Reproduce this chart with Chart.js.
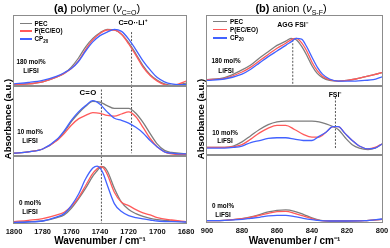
<!DOCTYPE html>
<html><head><meta charset="utf-8">
<script src="https://cdn.jsdelivr.net/npm/chart.js@4"></script>
<style>
body{margin:0;width:390px;height:248px;background:#fff;position:relative;overflow:hidden;font-family:"Liberation Sans",Arial,sans-serif;color:#000}
canvas{position:absolute}
.t{position:absolute;white-space:nowrap;line-height:1}
.c{transform:translate(-50%,-50%)}
.l{transform:translateY(-50%)}
.b{font-weight:bold}
.frame{position:absolute;border:1.5px solid #8c8c8c;box-sizing:border-box;pointer-events:none}
.div{position:absolute;height:1.5px;background:#8c8c8c}
.lg{position:absolute;height:1.8px}
.yt{position:absolute;font-weight:bold;font-size:9.5px;white-space:nowrap;transform:translate(-50%,-50%) rotate(-90deg)}
</style></head><body>
<script>
// ---------- data ----------
const legendLabels = ['PEC', 'P(EC/EO)', 'CP20'];
const concLabels = ['180 mol%', '10 mol%', '0 mol%'];
const ticksA = [1800, 1780, 1760, 1740, 1720, 1700, 1680];
const ticksB = [900, 880, 860, 840, 820, 800];

// (a) polymer, 180 mol% LiFSI
const wnA180  = [1800,1790,1780,1770,1765,1760,1755,1750,1745,1740,1735,1730,1725,1720,1715,1710,1705,1700,1695,1690,1685,1680];
const pecA180 = [.02,.03,.06,.13,.18,.27,.40,.56,.68,.76,.81,.80,.74,.62,.46,.29,.16,.08,.03,.01,.02,.04];
const pEOA180 = [.02,.03,.06,.13,.18,.25,.36,.52,.66,.75,.80,.80,.74,.60,.44,.27,.15,.07,.02,.005,.03,.07];
const cpA180  = [.03,.05,.08,.14,.19,.25,.35,.50,.63,.72,.77,.81,.78,.67,.52,.36,.23,.12,.06,.03,.02,.02];
// (a) polymer, 10 mol% LiFSI
const wnA10   = [1800,1790,1780,1770,1765,1760,1755,1750,1745,1740,1735,1730,1725,1720,1715,1710,1705,1700,1695,1690,1685,1680];
const pecA10  = [.04,.06,.10,.23,.34,.49,.61,.71,.78,.77,.72,.68,.68,.68,.61,.48,.32,.17,.08,.05,.04,.03];
const pEOA10  = [.04,.06,.10,.22,.32,.44,.53,.58,.62,.61,.58,.57,.60,.63,.56,.41,.25,.13,.06,.03,.02,.02];
const cpA10   = [.04,.06,.10,.24,.36,.51,.63,.72,.79,.74,.63,.54,.51,.47,.41,.33,.22,.13,.06,.04,.03,.03];
// (a) polymer, 0 mol% LiFSI
const wnA0    = [1800,1790,1780,1770,1765,1760,1755,1750,1745,1742,1740,1738,1735,1730,1725,1720,1715,1710,1705,1700,1690,1680];
const pecA0   = [.01,.02,.03,.08,.12,.22,.36,.52,.70,.78,.83,.84,.78,.52,.31,.20,.14,.10,.07,.05,.03,.015];
const pEOA0   = [.02,.04,.065,.12,.16,.25,.38,.56,.74,.81,.84,.83,.73,.46,.31,.26,.20,.15,.12,.08,.045,.02];
const cpA0    = [.01,.015,.03,.09,.14,.26,.43,.66,.82,.85,.82,.75,.57,.29,.17,.11,.08,.06,.045,.03,.02,.015];

// (b) anion, 180 mol% LiFSI
const wnB180  = [900,890,880,875,870,865,860,855,852,849,846,843,840,837,834,830,825,820,815,810,805,800];
const pecB180 = [.09,.12,.23,.30,.40,.49,.58,.64,.68,.66,.57,.44,.29,.18,.12,.08,.07,.08,.10,.13,.16,.19];
const pEOB180 = [.09,.11,.20,.27,.36,.45,.54,.61,.66,.68,.62,.50,.34,.22,.14,.09,.07,.08,.10,.13,.16,.19];
const cpB180  = [.08,.10,.17,.24,.33,.42,.50,.58,.63,.68,.67,.56,.41,.27,.17,.10,.07,.07,.07,.08,.09,.13];
// (b) anion, 10 mol% LiFSI
const wnB10   = [900,890,885,880,875,870,865,860,855,850,845,840,836,832,828,825,821,817,813,808,804,800];
const pecB10  = [.11,.11,.13,.19,.28,.37,.44,.48,.49,.49,.49,.49,.48,.45,.41,.37,.25,.15,.10,.08,.10,.16];
const pEOB10  = [.11,.11,.12,.15,.23,.32,.39,.43,.43,.37,.30,.26,.26,.33,.41,.41,.31,.21,.13,.09,.11,.16];
const cpB10   = [.10,.10,.11,.13,.18,.21,.24,.25,.25,.23,.21,.21,.27,.33,.41,.41,.31,.21,.13,.09,.10,.16];
// (b) anion, 0 mol% LiFSI
const wnB0    = [900,890,880,875,870,865,860,855,850,845,840,835,830,820,810,800];
const pecB0   = [.02,.025,.05,.075,.11,.15,.175,.18,.16,.115,.06,.025,.015,.015,.02,.04];
const pEOB0   = [.02,.025,.05,.07,.10,.13,.155,.16,.13,.09,.05,.02,.015,.015,.02,.04];
const cpB0    = [.02,.025,.04,.055,.07,.09,.10,.10,.08,.055,.035,.02,.015,.015,.02,.045];

// reference band positions (cm-1)
const bandLi = 1718, bandCO = 1739, bandAGG = 851, bandFSI = 826.6;

// ---------- layout ----------
const colors = ['#7d7d7d', '#ff5a5a', '#4262ff'];
const colA = {x0: 14, x1: 186, min: 1680, max: 1800, ticks: ticksA, rows: [[16, 86], [86, 156], [156, 223]]};
const colB = {x0: 207, x1: 382, min: 800, max: 900, ticks: ticksB, rows: [[16, 86], [86, 155], [155, 222]]};

function addChart(col, row, xs, series, marks) {
  const [top, bottom] = col.rows[row];
  const isBottom = row === 2;
  const pad = isBottom ? 16 : 0;
  const axisH = isBottom ? 248 - bottom : 0;
  const W = col.x1 - col.x0 + 2 * pad, H = bottom - top + axisH;
  const cv = document.createElement('canvas');
  cv.width = W; cv.height = H;
  cv.style.left = (col.x0 - pad) + 'px'; cv.style.top = top + 'px';
  cv.style.width = W + 'px'; cv.style.height = H + 'px';
  document.body.appendChild(cv);
  const datasets = series.map((ys, i) => ({
    label: legendLabels[i],
    data: xs.map((x, j) => ({x, y: ys[j]})),
    borderColor: colors[i], borderWidth: 1.3, pointRadius: 0,
    cubicInterpolationMode: 'monotone', fill: false, order: 3 - i
  }));
  marks.forEach(m => datasets.push({
    data: [{x: m[0], y: m[1]}, {x: m[0], y: m[2]}],
    borderColor: '#555', borderWidth: 1, borderDash: [2, 1.5], pointRadius: 0, order: 10
  }));
  new Chart(cv, {
    type: 'line',
    data: {datasets},
    options: {
      responsive: false, animation: false, devicePixelRatio: 1,
      layout: {padding: {left: pad, right: pad, top: 0, bottom: 0}},
      plugins: {legend: {display: false}, tooltip: {enabled: false}},
      scales: {
        x: {
          type: 'linear', reverse: true, min: col.min, max: col.max,
          display: isBottom,
          grid: {display: false, drawTicks: false}, border: {display: false},
          ticks: {font: {family: 'Liberation Sans', weight: 'bold', size: 7.5}, color: '#111', padding: 4.5,
                  maxRotation: 0, autoSkip: false, callback: v => String(v)},
          title: {display: true, text: 'Wavenumber / cm\u207B\u00B9', color: '#000',
                  font: {family: 'Liberation Sans', weight: 'bold', size: 10}, padding: {top: 0, bottom: 1}},
          afterBuildTicks: s => { s.ticks = col.ticks.map(v => ({value: v})); },
          afterFit: s => { s.height = axisH; }
        },
        y: {display: false, min: 0, max: 1}
      }
    }
  });
}

addChart(colA, 0, wnA180, [pecA180, pEOA180, cpA180], [[bandLi, 0.77, -0.05]]);
addChart(colA, 1, wnA10, [pecA10, pEOA10, cpA10], [[bandLi, 1.05, 0.04], [bandCO, 0.95, -0.05]]);
addChart(colA, 2, wnA0, [pecA0, pEOA0, cpA0], [[bandCO, 1.05, -0.05]]);
addChart(colB, 0, wnB180, [pecB180, pEOB180, cpB180], [[bandAGG, 0.66, -0.05]]);
addChart(colB, 1, wnB10, [pecB10, pEOB10, cpB10], [[bandFSI, 0.84, 0.09]]);
addChart(colB, 2, wnB0, [pecB0, pEOB0, cpB0], []);

// ---------- frames & text ----------
function el(html, cls, style) {
  const d = document.createElement('div');
  d.className = cls; d.innerHTML = html; d.setAttribute('style', style);
  document.body.appendChild(d); return d;
}
[colA, colB].forEach(col => {
  const bot = col.rows[2][1];
  el('', 'frame', `left:${col.x0 - 0.75}px;top:${16 - 0.75}px;width:${col.x1 - col.x0 + 1.5}px;height:${bot - 16 + 1.5}px`);
  el('', 'div', `left:${col.x0}px;top:${col.rows[1][0] - 0.75}px;width:${col.x1 - col.x0}px`);
  el('', 'div', `left:${col.x0}px;top:${col.rows[2][0] - 0.75}px;width:${col.x1 - col.x0}px`);
});

// titles
el('<b>(a)</b> polymer (<i>\u03BD</i><span style="font-size:7px;position:relative;top:2.5px">C=O</span>)', 't c', 'left:97px;top:8px;font-size:11px');
el('<b>(b)</b> anion (<i>\u03BD</i><span style="font-size:7px;position:relative;top:2.5px">S-F</span>)', 't c', 'left:291px;top:8px;font-size:11px');
// y titles
el('Absorbance (a.u.)', 'yt', 'left:6.5px;top:119px');
el('Absorbance (a.u.)', 'yt', 'left:199.5px;top:119px');

// legends
function legend(x0, len, tx, ys) {
  legendLabels.forEach((lab, i) => {
    el('', 'lg', `left:${x0}px;top:${ys[i] - 0.9}px;width:${len}px;background:${colors[i]}`);
    const html = lab === 'CP20' ? 'CP<span style="font-size:4.5px;position:relative;top:1.8px">20</span>' : lab;
    el(html, 't l b', `left:${tx}px;top:${ys[i]}px;font-size:6.3px`);
  });
}
legend(20, 12, 34.5, [23.5, 31.3, 39]);
legend(213, 13.5, 230, [21.5, 29.5, 37.7]);

// concentration labels
const concPos = [[31, 61.7, 71], [30, 131.7, 141], [30, 202.7, 211.7], [226, 61, 71], [225, 132.7, 141], [223, 206, 215]];
concPos.forEach((p, k) => {
  el(concLabels[k % 3], 't c b', `left:${p[0]}px;top:${p[1]}px;font-size:6.3px`);
  el('LiFSI', 't c b', `left:${p[0]}px;top:${p[2]}px;font-size:6.3px`);
});

// band annotations
el('C=O\u00B7\u00B7Li\u207A', 't c b', 'left:132.5px;top:23px;font-size:7.2px');
el('C=O', 't c b', 'left:88px;top:92.7px;font-size:7.8px;letter-spacing:0.3px');
el('AGG FSI\u207B', 't c b', 'left:292.5px;top:25px;font-size:6.9px');
el('FSI\u207B', 't c b', 'left:335px;top:95px;font-size:6.9px');
</script>
</body></html>
